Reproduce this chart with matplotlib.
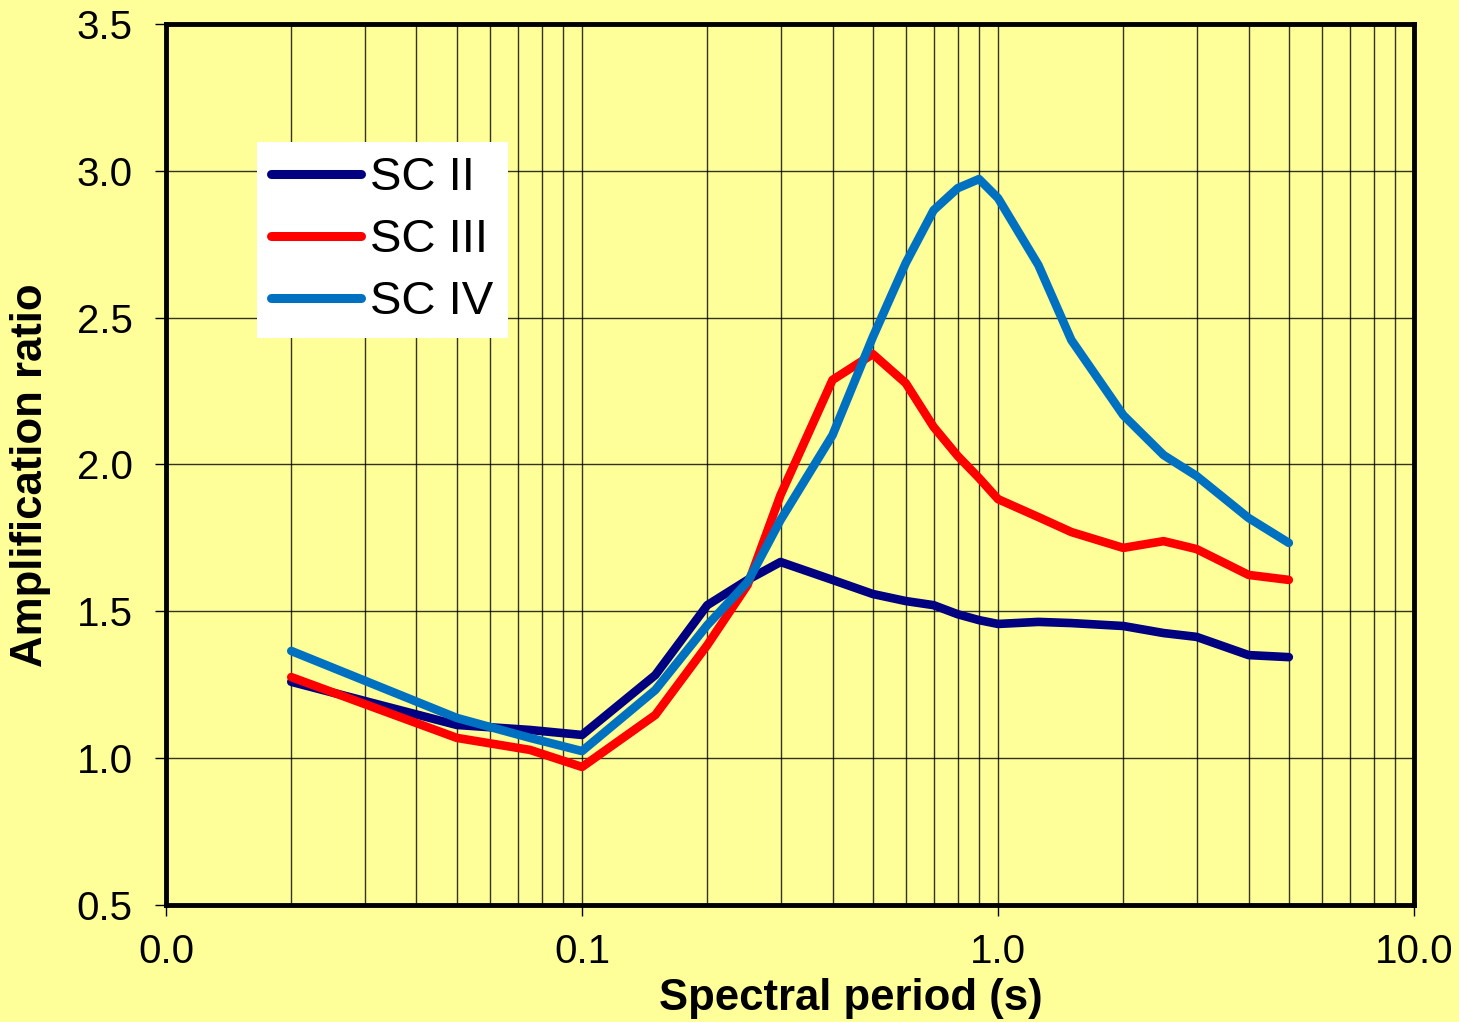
import matplotlib
matplotlib.use("Agg")
import matplotlib.pyplot as plt
from matplotlib.ticker import FixedLocator, FixedFormatter, LogLocator, NullFormatter

plt.rcParams['font.family'] = ['Liberation Sans', 'DejaVu Sans']

# spectral periods (s)
period = [0.02, 0.05, 0.075, 0.1, 0.15, 0.2, 0.25, 0.3, 0.4, 0.5, 0.6, 0.7,
          0.8, 0.9, 1.0, 1.25, 1.5, 2.0, 2.5, 3.0, 4.0, 5.0]

sc2 = [1.26, 1.113, 1.096, 1.079, 1.283, 1.521, 1.607, 1.668, 1.607, 1.559,
       1.535, 1.521, 1.49, 1.47, 1.457, 1.464, 1.46, 1.45, 1.426, 1.413,
       1.351, 1.344]
sc3 = [1.276, 1.069, 1.028, 0.97, 1.147, 1.385, 1.59, 1.896, 2.288, 2.376,
       2.277, 2.128, 2.029, 1.954, 1.882, 1.821, 1.77, 1.716, 1.739, 1.712,
       1.624, 1.607]
sc4 = [1.365, 1.137, 1.069, 1.024, 1.232, 1.453, 1.6, 1.811, 2.1, 2.434,
       2.686, 2.866, 2.941, 2.972, 2.907, 2.679, 2.424, 2.168, 2.032, 1.961,
       1.818, 1.733]

series = [("SC II", sc2, "#000080"), ("SC III", sc3, "#FF0000"), ("SC IV", sc4, "#0070C0")]

xticks = [0.01, 0.1, 1.0, 10.0]
xtick_labels = ["0.0", "0.1", "1.0", "10.0"]
yticks = [0.5, 1.0, 1.5, 2.0, 2.5, 3.0, 3.5]

bg = "#FFFF99"
fig = plt.figure(figsize=(14.59, 10.22), dpi=100, facecolor=bg)
ax = fig.add_axes([0.1138, 0.1145, 0.8554, 0.862])
ax.set_facecolor(bg)

for name, vals, col in series:
    ax.plot(period, vals, color=col, lw=6.2, label=name, solid_capstyle="round",
            solid_joinstyle="round", zorder=3)

ax.set_xscale("log")
ax.set_xlim(0.01, 10)
ax.set_ylim(0.5, 3.5)
ax.xaxis.set_major_locator(FixedLocator(xticks))
ax.xaxis.set_major_formatter(FixedFormatter(xtick_labels))
ax.xaxis.set_minor_locator(LogLocator(base=10, subs=range(2, 10)))
ax.xaxis.set_minor_formatter(NullFormatter())
ax.set_yticks(yticks)
ax.set_yticklabels([f"{v:.1f}" for v in yticks])

ax.grid(True, which="major", axis="both", color="black", lw=1.0, alpha=0.8)
ax.grid(True, which="minor", axis="x", color="black", lw=1.0, alpha=0.8)
ax.tick_params(axis="y", which="major", labelsize=29, length=8, width=1,
               direction="out", pad=16)
ax.tick_params(axis="x", which="major", labelsize=29, length=8, width=1,
               direction="out", pad=12)
ax.tick_params(axis="x", which="minor", length=0)

for s in ax.spines.values():
    s.set_linewidth(3.5)
    s.set_color("black")

ax.set_xlabel("Spectral period (s)", fontsize=31.5, fontweight="bold")
ax.xaxis.set_label_coords(0.549, -0.083)
ax.set_ylabel("Amplification ratio", fontsize=31.5, fontweight="bold")
ax.yaxis.set_label_coords(-0.0925, 0.488)

leg = ax.legend(loc="upper left", bbox_to_anchor=(0.0729, 0.866), fontsize=34,
                frameon=True, fancybox=False, framealpha=1, edgecolor="white",
                handlelength=1.9, handletextpad=0.2, borderpad=0.3,
                labelspacing=0.38, borderaxespad=0)
leg.get_frame().set_linewidth(0)
for h in leg.get_lines():
    h.set_linewidth(6.5)

fig.savefig("out.png", dpi=100, facecolor=bg)
